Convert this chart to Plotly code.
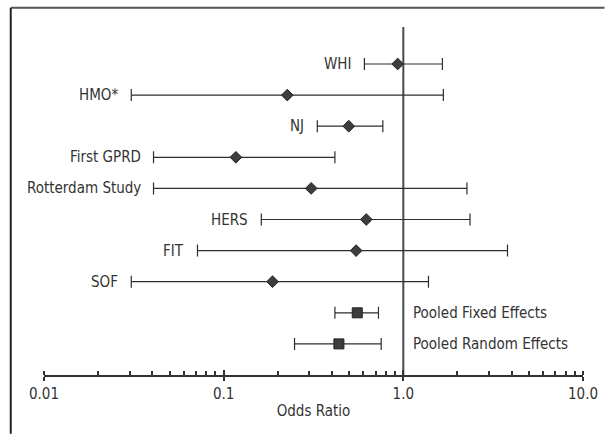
import math
import plotly.graph_objects as go

# ---- data ----
studies = ["WHI", "HMO*", "NJ", "First GPRD", "Rotterdam Study", "HERS", "FIT", "SOF"]
study_or = [0.93, 0.226, 0.497, 0.117, 0.307, 0.622, 0.546, 0.187]
study_lo = [0.607, 0.0306, 0.332, 0.0407, 0.0407, 0.162, 0.0715, 0.0306]
study_hi = [1.65, 1.67, 0.769, 0.416, 2.26, 2.35, 3.8, 1.38]

pooled = ["Pooled Fixed Effects", "Pooled Random Effects"]
pooled_or = [0.554, 0.438]
pooled_lo = [0.416, 0.248]
pooled_hi = [0.727, 0.753]

tick_vals = [0.01, 0.1, 1.0, 10.0]
tick_text = ["0.01", "0.1", "1.0", "10.0"]
x_title = "Odds Ratio"

# ---- layout helpers ----
n_rows = len(studies) + len(pooled)
study_y = [n_rows - i for i in range(len(studies))]
pooled_y = [len(pooled) - i for i in range(len(pooled))]

FONT = "DejaVu Sans Condensed, Liberation Sans Narrow, Arial Narrow, sans-serif"
TXT = "#333333"
MARK = "#3d3d3d"

fig = go.Figure()

fig.add_trace(go.Scatter(
    x=study_or, y=study_y, mode="markers",
    marker=dict(symbol="diamond", size=9, color=MARK, line=dict(color="#222", width=1)),
    error_x=dict(type="data", symmetric=False,
                 array=[h - o for h, o in zip(study_hi, study_or)],
                 arrayminus=[o - l for o, l in zip(study_or, study_lo)],
                 color="#2e2e2e", thickness=1.2, width=6),
    showlegend=False, hoverinfo="skip"))

fig.add_trace(go.Scatter(
    x=pooled_or, y=pooled_y, mode="markers",
    marker=dict(symbol="square", size=10, color=MARK, line=dict(color="#222", width=1)),
    error_x=dict(type="data", symmetric=False,
                 array=[h - o for h, o in zip(pooled_hi, pooled_or)],
                 arrayminus=[o - l for o, l in zip(pooled_or, pooled_lo)],
                 color="#2e2e2e", thickness=1.2, width=6),
    showlegend=False, hoverinfo="skip"))

# invisible trace to anchor the overlay axis (upper halves of major ticks)
fig.add_trace(go.Scatter(x=[tick_vals[0]], y=[0], xaxis="x2", mode="markers",
                         marker=dict(opacity=0), showlegend=False, hoverinfo="skip"))

annotations = []
for name, lo, y in zip(studies, study_lo, study_y):
    annotations.append(dict(x=math.log10(lo), y=y, xref="x", yref="y", text=name, showarrow=False,
                            xanchor="right", yanchor="middle", xshift=-11,
                            font=dict(family=FONT, size=15, color=TXT)))
for name, y in zip(pooled, pooled_y):
    annotations.append(dict(x=0.0, y=y, xref="x", yref="y", text=name, showarrow=False,
                            xanchor="left", yanchor="middle", xshift=8,
                            font=dict(family=FONT, size=15, color=TXT)))

shapes = [
    # reference line at OR = 1
    dict(type="line", xref="x", yref="paper", x0=1, x1=1, y0=0, y1=1,
         line=dict(color="#4a4a4a", width=2), layer="below"),
    # frame: top and left
    dict(type="line", xref="paper", yref="paper", x0=-0.0617, x1=1.04, y0=1.055, y1=1.055,
         line=dict(color="#555", width=2)),
    dict(type="line", xref="paper", yref="paper", x0=-0.0617, x1=-0.0617, y0=1.055, y1=-0.169,
         line=dict(color="#222", width=2)),
]

fig.update_layout(
    width=610, height=434,
    margin=dict(l=44, r=25, t=27, b=59),
    paper_bgcolor="white", plot_bgcolor="white",
    font=dict(family=FONT, size=15, color=TXT),
    annotations=annotations,
    shapes=shapes,
    xaxis=dict(type="log", range=[-2, 1], tickvals=tick_vals, ticktext=tick_text,
               showgrid=False, zeroline=False, showline=True, linecolor="#333", linewidth=2,
               ticks="outside", ticklen=4, tickwidth=1.5, tickcolor="#333",
               minor=dict(ticks="inside", ticklen=4, tickwidth=1.5, tickcolor="#333",
                          dtick="D1", showgrid=False),
               tickfont=dict(family=FONT, size=15, color=TXT),
               title=dict(text=x_title, font=dict(family=FONT, size=15, color=TXT), standoff=3),
               fixedrange=True),
    xaxis2=dict(type="log", range=[-2, 1], overlaying="x", anchor="y", side="bottom",
                tickvals=tick_vals, showticklabels=False, showgrid=False, zeroline=False,
                showline=False, ticks="inside", ticklen=5, tickwidth=1.5, tickcolor="#333"),
    yaxis=dict(range=[0, n_rows + 1.19], visible=False, fixedrange=True),
)

fig.write_html("out.html", config={"displayModeBar": False},
               post_script="document.body.style.margin='0';document.body.style.overflow='hidden';")
